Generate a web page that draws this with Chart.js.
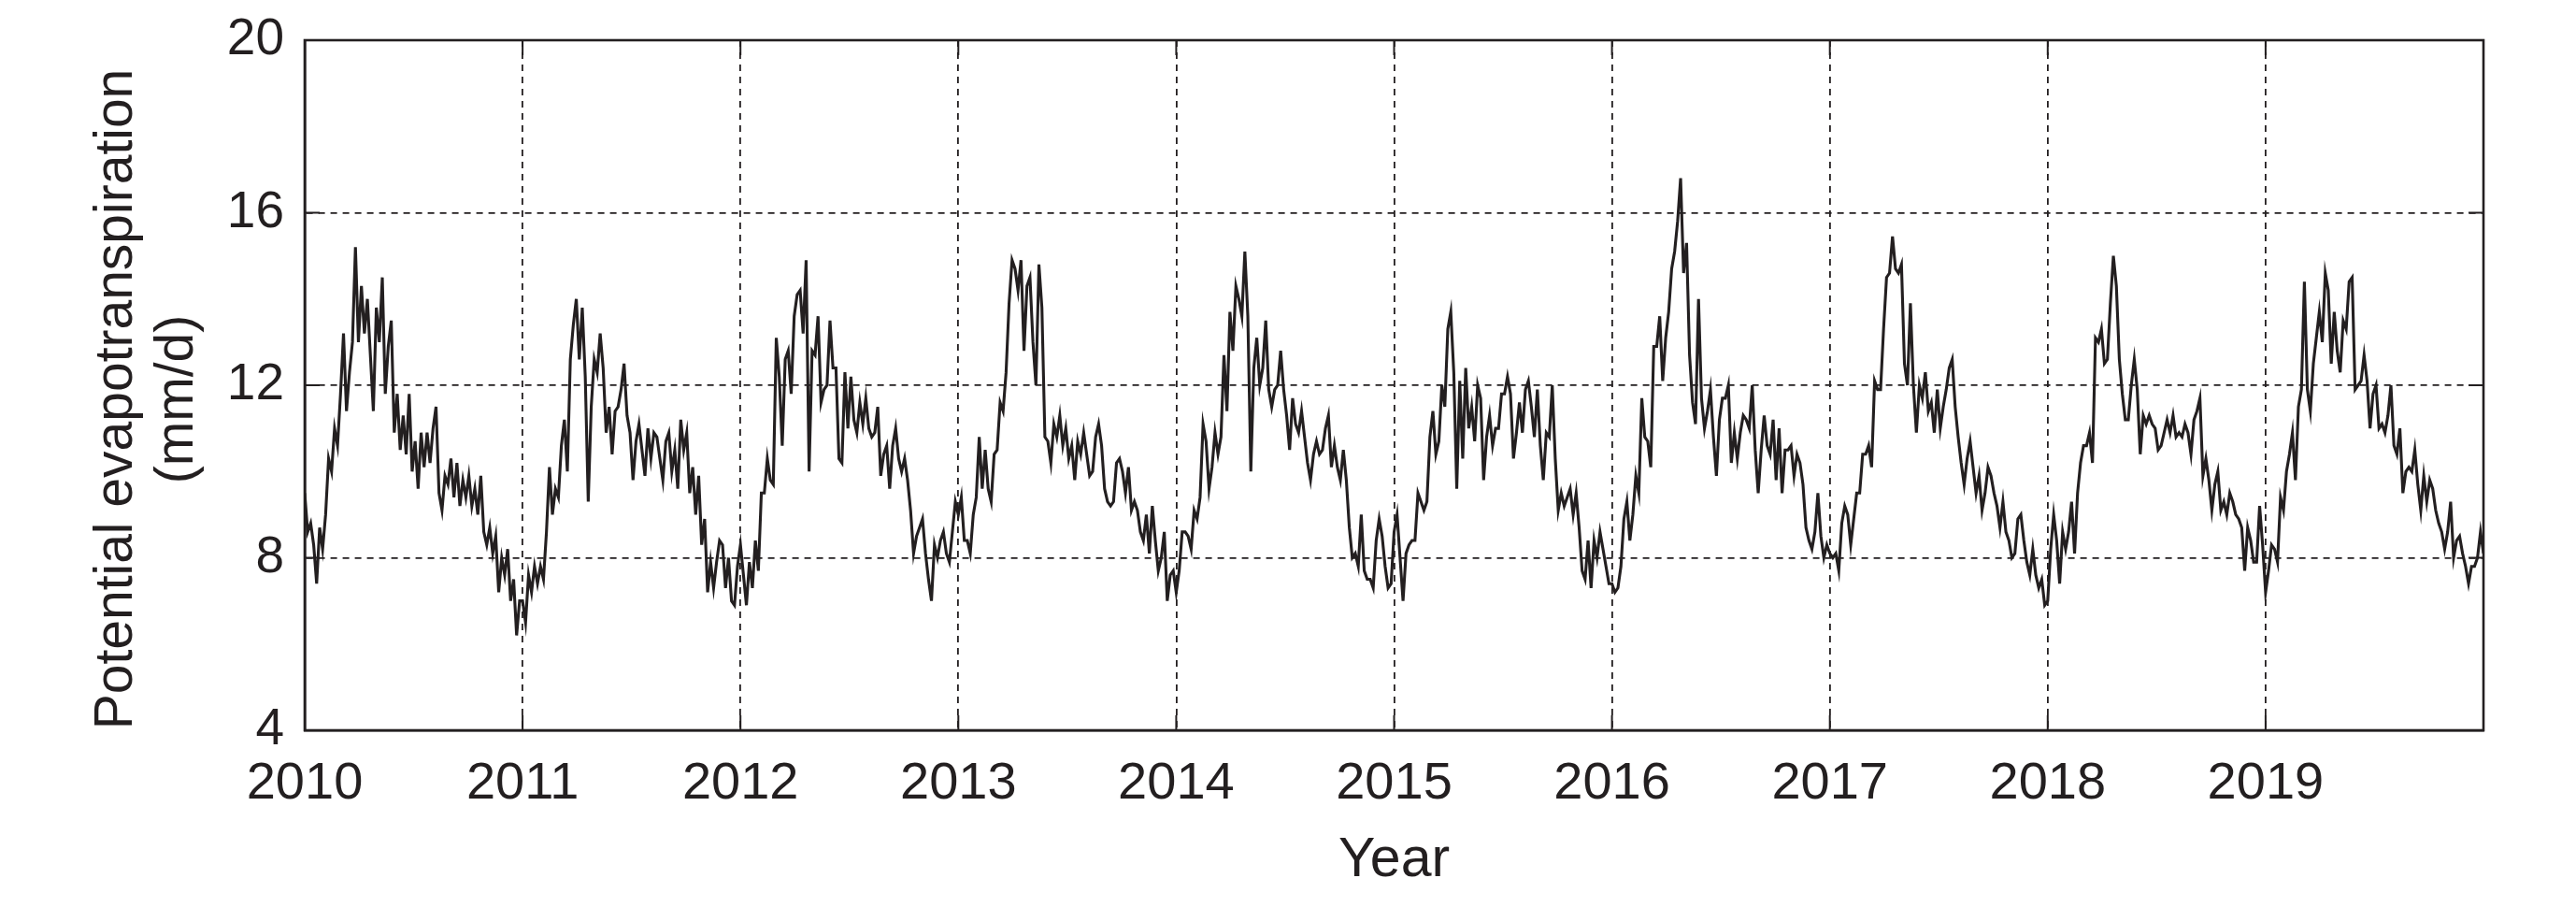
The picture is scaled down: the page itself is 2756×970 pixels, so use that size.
<!DOCTYPE html>
<html>
<head>
<meta charset="utf-8">
<script src="https://cdn.jsdelivr.net/npm/chart.js@4.4.1/dist/chart.umd.min.js"></script>
<style>
html,body{margin:0;padding:0;background:#ffffff;}
canvas{display:block;}
</style>
</head>
<body>
<canvas id="c" width="2756" height="970"></canvas>
<script>
// ---- data (~5-day samples) ----
const years = [2010, 2011, 2012, 2013, 2014, 2015, 2016, 2017, 2018, 2019];
const xTickLabels = ['2010', '2011', '2012', '2013', '2014', '2015', '2016', '2017', '2018', '2019'];
const yTickValues = [4, 8, 12, 16, 20];
const yTitleLines = ['Potential evapotranspiration', '(mm/d)'];

const pet2010 = [9.5,8.6,8.8,8.3,7.4,8.7,8.2,9.0,10.3,10.0,11.0,10.6,11.8,13.2,11.4,12.3,13.0,15.2,13.0,14.3,13.2,14.0,12.7,11.4,13.8,13.0,14.5,11.8,12.9,13.5,10.9,11.8,10.5,11.3,10.4,11.8,10.0,10.7,9.6,10.9,10.1,10.9,10.2,11.0,11.5,9.5,9.1,9.9,9.7,10.3,9.4,10.2,9.2,9.8,9.4,9.9,9.2,9.6,9.0,9.9,8.6,8.3,8.7,8.1,8.5,7.2,8.0,7.6,8.2,7.0,7.5,6.2,7.0];
const pet2011 = [7.0,6.5,7.6,7.2,7.8,7.4,7.8,7.5,8.6,10.1,9.0,9.6,9.4,10.6,11.2,10.0,12.6,13.4,14.0,12.6,13.8,12.2,9.3,11.5,12.6,12.3,13.2,12.4,10.9,11.5,10.4,11.4,11.5,11.9,12.5,11.3,10.9,9.8,10.7,11.1,10.5,9.9,11.0,10.3,10.9,10.8,10.3,9.8,10.7,10.9,10.0,10.5,9.6,11.2,10.5,10.9,9.5,10.1,9.0,9.9,8.3,8.9,7.2,7.9,7.3,7.9,8.4,8.3,7.3,8.0,7.0,6.9,7.8];
const pet2012 = [8.3,7.6,6.9,7.9,7.3,8.4,7.7,9.5,9.5,10.3,9.8,9.7,13.1,12.2,10.6,12.6,12.8,11.8,13.6,14.1,14.2,13.2,14.9,10.0,12.8,12.7,13.6,11.6,11.9,12.0,13.5,12.4,12.4,10.3,10.2,12.3,11.0,12.2,11.2,10.9,11.6,11.1,11.7,11.0,10.8,10.9,11.5,9.9,10.4,10.6,9.6,10.6,11.0,10.3,10.0,10.3,9.8,9.1,8.1,8.5,8.7,8.9,8.1,7.5,7.0,8.3,8.0,8.4,8.6,8.1,7.9,8.6,9.3];
const pet2013 = [9.0,9.4,8.4,8.4,8.1,9.0,9.4,10.8,9.6,10.5,9.6,9.3,10.4,10.5,11.6,11.4,12.3,13.9,14.9,14.7,14.2,14.9,12.8,14.3,14.5,13.0,12.0,14.8,13.8,10.8,10.7,10.2,11.1,10.8,11.3,10.6,11.0,10.3,10.6,9.8,10.7,10.4,10.9,10.4,9.9,10.0,10.8,11.1,10.6,9.6,9.3,9.2,9.3,10.2,10.3,10.0,9.5,10.1,9.1,9.3,9.1,8.6,8.4,9.0,8.1,9.2,8.4,7.7,8.0,8.6,7.0,7.6,7.7];
const pet2014 = [7.2,7.7,8.6,8.6,8.5,8.2,9.1,8.9,9.4,11.1,10.7,9.6,10.1,10.9,10.4,10.8,12.7,11.4,13.7,12.8,14.3,14.0,13.6,15.1,13.6,10.0,12.4,13.1,12.0,12.4,13.5,11.9,11.5,11.9,12.0,12.8,11.9,11.3,10.5,11.7,11.1,10.9,11.4,10.8,10.2,9.8,10.4,10.7,10.4,10.5,11.0,11.3,10.1,10.6,10.1,9.8,10.5,9.8,8.7,8.0,8.1,7.8,9.0,7.7,7.5,7.5,7.3,8.4,8.9,8.5,7.8,7.3,7.4];
const pet2015 = [8.6,9.0,8.0,7.0,8.1,8.3,8.4,8.4,9.5,9.3,9.1,9.3,10.8,11.4,10.4,10.7,12.0,11.5,13.3,13.7,12.3,9.6,12.1,10.3,12.4,11.0,11.5,10.7,12.0,11.7,9.8,10.8,11.3,10.6,11.0,11.0,11.8,11.8,12.2,11.8,10.3,10.9,11.6,10.9,11.9,12.1,11.5,10.8,11.9,10.6,9.8,10.9,10.8,12.0,10.3,9.1,9.5,9.2,9.4,9.6,9.0,9.5,8.7,7.7,7.5,8.4,7.3,8.4,8.0,8.6,8.2,7.8,7.4];
const pet2016 = [7.4,7.2,7.3,7.8,8.9,9.3,8.4,9.0,9.9,9.5,11.7,10.8,10.7,10.1,12.9,12.9,13.6,12.1,13.1,13.7,14.7,15.1,15.8,16.8,14.6,15.3,12.7,11.6,11.1,14.0,11.7,11.0,11.4,11.9,10.8,9.9,11.2,11.7,11.7,12.0,10.2,10.9,10.3,10.9,11.3,11.2,11.0,12.0,10.5,9.5,10.5,11.3,10.6,10.4,11.2,9.8,11.0,9.5,10.5,10.5,10.6,9.9,10.4,10.2,9.7,8.7,8.4,8.2,8.6,9.5,8.5,8.0,8.3];
const pet2017 = [8.1,8.0,8.1,7.7,8.8,9.2,9.0,8.3,8.9,9.5,9.5,10.4,10.4,10.6,10.1,12.1,11.9,11.9,13.3,14.5,14.6,15.45,14.7,14.6,14.8,12.5,12.0,13.9,12.0,10.9,12.0,11.7,12.3,11.4,11.6,10.9,11.9,11.0,11.5,11.9,12.4,12.6,11.5,10.8,10.2,9.7,10.3,10.7,10.1,9.5,9.9,9.1,9.5,10.1,9.9,9.5,9.2,8.7,9.3,8.6,8.4,8.0,8.1,8.9,9.0,8.4,7.9,7.6,8.2,7.6,7.3,7.5,6.9];
const pet2018 = [7.0,8.2,9.0,8.4,7.4,8.6,8.2,8.6,9.3,8.1,9.5,10.2,10.6,10.6,10.9,10.2,13.1,13.0,13.3,12.5,12.6,13.9,15.0,14.3,12.6,11.8,11.2,11.2,12.0,12.6,11.9,10.4,11.3,11.1,11.3,11.1,11.0,10.5,10.6,10.9,11.2,10.9,11.3,10.8,10.9,10.8,11.1,10.9,10.4,11.2,11.4,11.7,9.9,10.3,9.8,9.1,9.7,10.0,9.1,9.3,9.0,9.5,9.3,9.0,8.9,8.7,7.7,8.7,8.4,7.9,7.9,9.2,8.3];
const pet2019 = [7.2,7.7,8.3,8.2,7.9,9.4,9.1,10.0,10.4,10.9,9.8,11.5,11.9,14.4,11.9,11.4,12.5,13.1,13.7,13.0,14.6,14.2,12.5,13.7,12.8,12.3,13.5,13.3,14.4,14.5,11.9,12.0,12.1,12.7,12.1,11.0,11.8,12.0,11.0,11.1,10.9,11.3,12.0,10.6,10.4,11.0,9.5,10.0,10.1,10.0,10.5,9.7,9.1,9.9,9.3,9.8,9.6,9.1,8.8,8.6,8.2,8.6,9.3,8.0,8.4,8.5,8.1,7.8,7.4,7.8,7.8,8.0,8.6];
const pet2020Start = [8.1];

// ---- build the series (x = decimal year) ----
const seriesByYear = [pet2010, pet2011, pet2012, pet2013, pet2014, pet2015, pet2016, pet2017, pet2018, pet2019];
const points = [];
seriesByYear.forEach((arr, yi) => {
  arr.forEach((v, i) => points.push({ x: years[yi] + i / arr.length, y: v }));
});
points.push({ x: 2020, y: pet2020Start[0] });

const INK = '#231f20';
const FONT = "'Liberation Sans', Arial, Helvetica, sans-serif";
Chart.defaults.font.family = FONT;
Chart.defaults.color = INK;

// solid frame + inward tick marks (matlab style), positioned by the chart scales
const framePlugin = {
  id: 'frame',
  afterDraw(chart) {
    const { ctx, chartArea: a, scales } = chart;
    const xs = scales.x, ys = scales.y;
    const tl = 16;
    ctx.save();
    ctx.setLineDash([]);
    ctx.strokeStyle = INK;
    ctx.lineWidth = 2;
    ctx.beginPath();
    xs.ticks.forEach(t => {
      const px = xs.getPixelForValue(t.value);
      ctx.moveTo(px, a.bottom); ctx.lineTo(px, a.bottom - tl);
      ctx.moveTo(px, a.top); ctx.lineTo(px, a.top + tl);
    });
    ys.ticks.forEach(t => {
      const py = ys.getPixelForValue(t.value);
      ctx.moveTo(a.left, py); ctx.lineTo(a.left + tl, py);
      ctx.moveTo(a.right, py); ctx.lineTo(a.right - tl, py);
    });
    ctx.stroke();
    ctx.lineWidth = 2.6;
    ctx.strokeRect(a.left, a.top, a.right - a.left, a.bottom - a.top);

    // y-axis title (two rotated lines), slightly below the plot centre as in the reference
    const cy = (a.top + a.bottom) / 2 + 15;
    ctx.fillStyle = INK;
    ctx.font = "57px " + FONT;
    ctx.textAlign = 'center';
    ctx.textBaseline = 'middle';
    const lineX = [125, 190];
    yTitleLines.forEach((txt, i) => {
      ctx.save();
      ctx.translate(lineX[i], cy);
      ctx.rotate(-Math.PI / 2);
      ctx.fillText(txt, 0, 0);
      ctx.restore();
    });
    ctx.restore();
  }
};

new Chart(document.getElementById('c'), {
  type: 'line',
  data: {
    datasets: [{
      data: points,
      borderColor: INK,
      borderWidth: 3.1,
      pointRadius: 0,
      tension: 0,
      fill: false,
      borderJoinStyle: 'miter'
    }]
  },
  options: {
    responsive: false,
    devicePixelRatio: 1,
    animation: false,
    events: [],
    layout: { padding: { top: 43, right: 99, left: 0, bottom: 0 } },
    plugins: { legend: { display: false }, tooltip: { enabled: false } },
    scales: {
      x: {
        type: 'linear',
        min: 2010,
        max: 2020,
        afterBuildTicks: s => { s.ticks = years.concat([2020]).map(v => ({ value: v })); },
        afterFit: s => { s.height = 189; s.paddingLeft = 0; s.paddingRight = 0; },
        ticks: {
          autoSkip: false,
          maxRotation: 0,
          padding: 24,
          color: INK,
          font: { size: 56 },
          callback: v => { const i = years.indexOf(v); return i >= 0 ? xTickLabels[i] : ''; }
        },
        grid: { color: INK, lineWidth: 1.8, drawTicks: false },
        border: { display: true, color: INK, width: 2.6, dash: [7, 6] },
        title: { display: true, text: 'Year', color: INK, font: { size: 59 }, padding: { top: 0, bottom: 14 } }
      },
      y: {
        min: 4,
        max: 20,
        afterBuildTicks: s => { s.ticks = yTickValues.map(v => ({ value: v })); },
        afterFit: s => { s.width = 326; s.paddingTop = 0; s.paddingBottom = 0; },
        ticks: { padding: 22, color: INK, font: { size: 55 } },
        grid: { color: INK, lineWidth: 1.8, drawTicks: false },
        border: { display: true, color: INK, width: 2.6, dash: [7, 6] },
        title: { display: false }
      }
    }
  },
  plugins: [framePlugin]
});
</script>
</body>
</html>
